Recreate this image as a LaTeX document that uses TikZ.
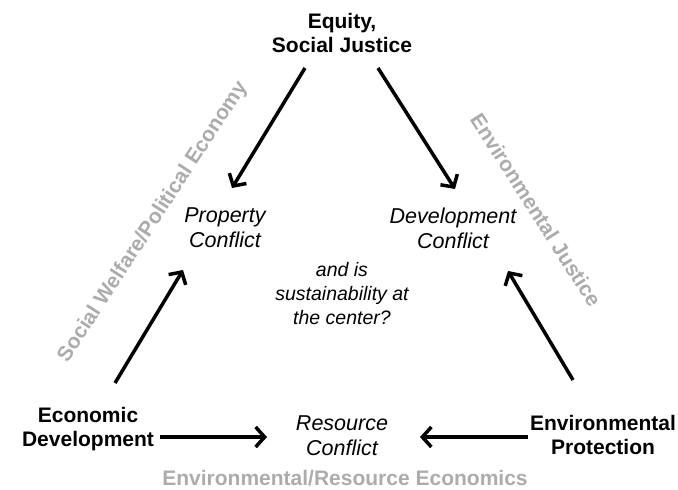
\documentclass[tikz,border=0pt]{standalone}
\usepackage{fontspec}
\setmainfont{Liberation Sans}
\usetikzlibrary{arrows.meta}
\begin{document}
\begin{tikzpicture}[x=1pt,y=-1pt,
  lbl/.style={font=\fontsize{21}{24}\selectfont\bfseries, align=center, inner sep=0pt},
  conf/.style={font=\fontsize{21.5}{25}\selectfont\itshape, align=center, inner sep=0pt},
  ques/.style={font=\fontsize{19.5}{24}\selectfont\itshape, align=center, inner sep=0pt},
  theme/.style={font=\fontsize{21}{24}\selectfont\bfseries, text=gray!65, inner sep=0pt},
  arr/.style={line width=3.5pt, -{Straight Barb[length=9pt,width=20pt]}}]
\useasboundingbox (0,0) rectangle (678,490);
% main nodes
\node[lbl] (eq) at (342,33) {Equity,\\Social Justice};
\node[lbl] (econ) at (88,429) {Economic\\Development};
\node[lbl] (envp) at (603,435) {Environmental\\Protection};
\node[conf] (prop) at (225,228) {Property\\Conflict};
\node[conf] (dev) at (453,228) {Development\\Conflict};
\node[conf] (res) at (342,436) {Resource\\Conflict};
\node[ques] (q) at (342,294) {and is\\sustainability at\\the center?};
% theme labels
\node[theme, rotate=57] (swpe) at (153,222) {Social Welfare/Political Economy};
\node[theme, rotate=-57.5] (ej) at (536,210) {Environmental Justice};
\node[theme] (ere) at (345,478) {Environmental/Resource Economics};
% arrow end points
\coordinate (a1s) at (305,68);  \coordinate (a1e) at (232,188);
\coordinate (a2s) at (378,68);  \coordinate (a2e) at (455,189);
\coordinate (a3s) at (115,383); \coordinate (a3e) at (183,270);
\coordinate (a4s) at (573,380); \coordinate (a4e) at (508,271);
\coordinate (a5s) at (160,437); \coordinate (a5e) at (267,437);
\coordinate (a6s) at (528,437); \coordinate (a6e) at (420,437);
\draw[arr] (a1s) -- (a1e);
\draw[arr] (a2s) -- (a2e);
\draw[arr] (a3s) -- (a3e);
\draw[arr] (a4s) -- (a4e);
\draw[arr] (a5s) -- (a5e);
\draw[arr] (a6s) -- (a6e);
\end{tikzpicture}
\end{document}
